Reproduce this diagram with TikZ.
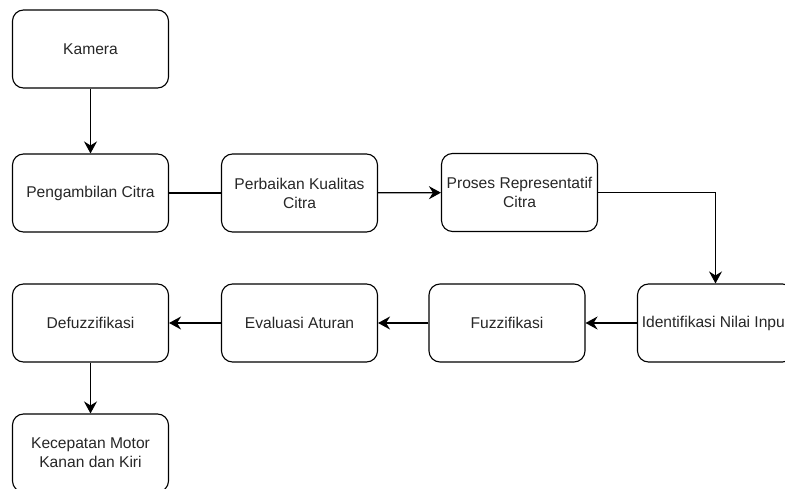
\documentclass[tikz,border=0pt]{standalone}
\usepackage{fontspec}
\setmainfont{Liberation Sans}
\usetikzlibrary{arrows.meta}
\begin{document}
\begin{tikzpicture}[x=1pt,y=-1pt,
  box/.style={draw=black, line width=1.1pt, rounded corners=11pt, minimum width=156pt, minimum height=78pt,
    inner sep=2pt, align=center, font=\fontsize{15.6}{19}\selectfont, text=black!85},
  conn/.style={draw=black, line width=1.3pt},
  arr/.style={conn, -{Stealth[length=12pt,width=13pt,inset=4pt]}}]
\useasboundingbox (0,0) rectangle (785,489);
\clip (0,0) rectangle (785,489);
\node[box] (kam) at (90.5,49) {Kamera};
\node[box] (peng) at (90.5,193) {Pengambilan Citra};
\node[box] (perb) at (299.5,193) {Perbaikan Kualitas\\Citra};
\node[box] (pros) at (519.5,192.5) {Proses Representatif\\Citra};
\node[box] (iden) at (715.5,323) {Identifikasi Nilai Input};
\node[box] (fuzz) at (507,323) {Fuzzifikasi};
\node[box] (eval) at (299.5,323) {Evaluasi Aturan};
\node[box] (defu) at (90.5,323) {Defuzzifikasi};
\node[box] (kec) at (90.5,453) {Kecepatan Motor\\Kanan dan Kiri};
\draw[arr] (kam) -- (peng);
\draw[conn] (peng) -- (perb);
\draw[arr] (perb) -- (pros);
\draw[arr] (pros.east) -| (iden.north);
\draw[arr] (iden) -- (fuzz);
\draw[arr] (fuzz) -- (eval);
\draw[arr] (eval) -- (defu);
\draw[arr] (defu) -- (kec);
\end{tikzpicture}
\end{document}
